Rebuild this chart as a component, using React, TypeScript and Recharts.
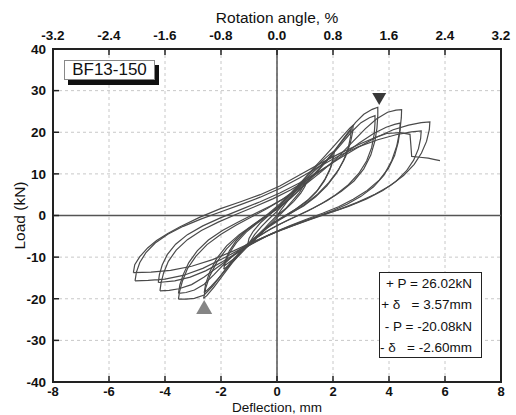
import {
  ComposedChart,
  Line,
  Scatter,
  XAxis,
  YAxis,
  CartesianGrid,
  ReferenceLine,
  ReferenceArea,
} from "recharts";

type Pt = [number, number];

// load history, deflection (mm) vs load (kN), one array per cycle
const cycle1: Pt[] = [
  [0, 0], [0.3, 2.8], [0.6, 5.4], [0.85, 7.4], [1.0, 8.3],
  [0.95, 7.2], [0.8, 5.5], [0.55, 3.5], [0.3, 1.6], [0, 0], [-0.3, -2], [-0.6, -4.3], [-0.85, -6.3], [-1.0, -7.2],
];
const cycle2: Pt[] = [
  [-1.0, -7.2], [-0.95, -6.2], [-0.8, -4.6], [-0.55, -2.6], [-0.3, -0.9], [0, 1.0], [0.3, 3.2], [0.6, 5.3], [0.85, 7.0], [1.05, 8.0],
  [1.0, 7.0], [0.85, 5.4], [0.6, 3.4], [0.3, 1.5], [0, -0.5], [-0.3, -2.5], [-0.6, -4.6], [-0.9, -6.5], [-1.05, -7.1],
];
const cycle3: Pt[] = [
  [-1.05, -7.1], [-1.0, -5.5], [-0.85, -3.8], [-0.6, -1.8], [-0.3, 0], [0, 1.8], [0.4, 4.5], [0.8, 7.4], [1.2, 10.3], [1.6, 13], [1.9, 14.8], [2.05, 15.5],
  [2.02, 14.0], [1.92, 11.6], [1.72, 8.8], [1.45, 6.1], [1.1, 3.7], [0.7, 1.7], [0.3, 0], [-0.1, -1.6], [-0.5, -3.8], [-0.9, -6.4], [-1.3, -9.2], [-1.65, -11.6], [-1.9, -12.9],
];
const cycle4: Pt[] = [
  [-1.9, -12.9], [-1.85, -11.2], [-1.7, -9], [-1.45, -6.5], [-1.1, -4], [-0.7, -1.8], [-0.3, 0.2], [0.1, 2.4], [0.5, 5], [0.9, 7.8], [1.3, 10.5], [1.7, 12.9], [2.0, 14.4],
  [1.98, 13.0], [1.88, 10.8], [1.68, 8.2], [1.4, 5.6], [1.05, 3.3], [0.6, 1.2], [0.15, -0.6], [-0.3, -2.6], [-0.7, -5], [-1.1, -7.6], [-1.5, -10.2], [-1.9, -12.2],
];
const cycle5: Pt[] = [
  [-1.9, -12.2], [-1.85, -10.8], [-1.7, -8.5], [-1.45, -6], [-1.1, -3.6], [-0.7, -1.5], [-0.3, 0.5], [0.1, 2.8], [0.5, 5.4], [0.9, 8.3], [1.3, 11.3], [1.7, 14.2], [2.1, 17.2], [2.4, 19.5], [2.6, 21], [2.72, 21.7],
  [2.7, 20.0], [2.62, 17.4], [2.45, 14.2], [2.2, 11], [1.85, 7.9], [1.45, 5.1], [1.0, 2.7], [0.55, 0.8], [0.1, -1], [-0.35, -3], [-0.8, -5.4], [-1.2, -8.2], [-1.6, -11.4], [-1.95, -14.5], [-2.25, -17.2], [-2.5, -19.2], [-2.62, -19.9],
];
const cycle6: Pt[] = [
  [-2.62, -19.9], [-2.55, -17.5], [-2.4, -14.5], [-2.15, -11.2], [-1.8, -8], [-1.4, -5.2], [-0.95, -2.8], [-0.5, -0.7], [0, 1.5], [0.5, 4.2], [1.0, 7.4], [1.5, 11], [1.95, 14.6], [2.3, 17.6], [2.55, 19.8], [2.65, 20.6],
  [2.63, 19.0], [2.55, 16.4], [2.38, 13.2], [2.12, 10.1], [1.78, 7.1], [1.38, 4.5], [0.95, 2.3], [0.45, 0.4], [-0.05, -1.4], [-0.5, -3.5], [-0.9, -6], [-1.3, -8.9], [-1.7, -12], [-2.05, -14.8], [-2.35, -17], [-2.6, -18.6],
];
const cycle7: Pt[] = [
  [-2.6, -18.6], [-2.55, -16.5], [-2.4, -13.5], [-2.15, -10.3], [-1.8, -7.3], [-1.35, -4.6], [-0.85, -2.2], [-0.35, 0], [0.15, 2.4], [0.65, 5.2], [1.15, 8.5], [1.65, 12.2], [2.1, 16], [2.5, 19.6], [2.8, 22.3], [3.1, 24.3], [3.4, 25.5], [3.6, 26.0],
  [3.6, 24], [3.57, 21], [3.5, 18], [3.35, 14.5], [3.1, 11.2], [2.75, 8.3], [2.3, 5.8], [1.8, 3.6], [1.3, 1.8], [0.8, 0.2], [0.3, -1.4], [-0.2, -3.1], [-0.7, -5.2], [-1.2, -7.9], [-1.65, -11.2], [-2.0, -14.3], [-2.3, -17], [-2.6, -19.1], [-2.95, -19.9], [-3.25, -20.1], [-3.52, -20.1],
];
const cycle8: Pt[] = [
  [-3.52, -20.1], [-3.48, -18.3], [-3.38, -15.8], [-3.2, -12.8], [-2.9, -9.8], [-2.5, -7], [-2.0, -4.5], [-1.45, -2.3], [-0.9, -0.3], [-0.35, 1.7], [0.2, 3.9], [0.75, 6.6], [1.3, 9.8], [1.8, 13.3], [2.25, 16.8], [2.65, 20], [3.0, 22.3], [3.3, 23.5], [3.5, 24.0],
  [3.5, 22.2], [3.47, 19.5], [3.38, 16.3], [3.2, 13.1], [2.92, 10.1], [2.55, 7.4], [2.1, 5], [1.6, 2.9], [1.1, 1.1], [0.6, -0.5], [0.1, -2.1], [-0.4, -3.9], [-0.9, -6], [-1.4, -8.6], [-1.85, -11.4], [-2.25, -14.2], [-2.6, -16.5], [-2.95, -17.9], [-3.25, -18.5], [-3.52, -18.7],
];
const cycle9: Pt[] = [
  [-3.52, -18.7], [-3.47, -16.7], [-3.35, -14.2], [-3.15, -11.3], [-2.85, -8.5], [-2.45, -5.9], [-1.95, -3.6], [-1.4, -1.6], [-0.8, 0.4], [-0.2, 2.4], [0.4, 4.7], [1.0, 7.4], [1.6, 10.6], [2.2, 14.2], [2.7, 17.7], [3.15, 20.8], [3.55, 23.2], [3.95, 24.8], [4.25, 25.3], [4.45, 25.4],
  [4.44, 23.5], [4.39, 20.5], [4.28, 16.8], [4.1, 13.2], [3.82, 9.7], [3.45, 6.9], [3.0, 4.6], [2.5, 2.7], [2.0, 1.2], [1.45, -0.2], [0.85, -1.7], [0.25, -3.2], [-0.35, -4.9], [-0.95, -7], [-1.55, -9.6], [-2.1, -12.3], [-2.6, -14.8], [-3.05, -16.6], [-3.5, -17.6], [-3.85, -18], [-4.18, -18.1],
];
const cycle10: Pt[] = [
  [-4.18, -18.1], [-4.14, -16.2], [-4.05, -13.8], [-3.88, -11], [-3.6, -8.3], [-3.2, -5.8], [-2.7, -3.6], [-2.1, -1.6], [-1.45, 0.3], [-0.8, 2.1], [-0.15, 4], [0.5, 6.2], [1.15, 8.8], [1.8, 11.8], [2.4, 14.8], [2.95, 17.5], [3.45, 19.7], [3.9, 21.2], [4.2, 21.9], [4.4, 22.2],
  [4.39, 20.4], [4.33, 17.6], [4.2, 14.4], [3.98, 11.3], [3.65, 8.5], [3.22, 6], [2.72, 3.9], [2.2, 2.1], [1.65, 0.6], [1.05, -0.9], [0.45, -2.5], [-0.15, -4.2], [-0.75, -6.2], [-1.35, -8.6], [-1.95, -11.1], [-2.55, -13.3], [-3.1, -14.8], [-3.65, -15.7], [-4.24, -16.1],
];
const cycle11: Pt[] = [
  [-4.24, -16.1], [-4.2, -14.2], [-4.1, -11.9], [-3.92, -9.4], [-3.62, -6.9], [-3.2, -4.6], [-2.65, -2.5], [-2.0, -0.5], [-1.3, 1.4], [-0.6, 3.3], [0.1, 5.4], [0.8, 7.8], [1.5, 10.6], [2.2, 13.6], [2.9, 16.4], [3.55, 18.8], [4.15, 20.6], [4.7, 21.7], [5.15, 22.3], [5.46, 22.5],
  [5.44, 20.6], [5.34, 17.8], [5.16, 15], [4.9, 12.3], [4.52, 9.6], [4.05, 7.2], [3.5, 5.1], [2.85, 3.1], [2.2, 1.4], [1.55, 0], [0.85, -1.6], [0.15, -3.4], [-0.55, -5.5], [-1.25, -7.9], [-1.95, -10.4], [-2.65, -12.7], [-3.35, -14.4], [-4.0, -15.3], [-4.6, -15.6], [-5.07, -15.7],
];
const cycle12: Pt[] = [
  [-5.07, -15.7], [-5.02, -13.6], [-4.9, -11.3], [-4.68, -8.9], [-4.35, -6.6], [-3.9, -4.5], [-3.35, -2.6], [-2.7, -0.8], [-2.0, 0.9], [-1.3, 2.6], [-0.6, 4.4], [0.1, 6.5], [0.8, 9], [1.5, 11.7], [2.2, 14.3], [2.9, 16.5], [3.6, 18.2], [4.25, 19.4], [4.8, 20.1], [5.15, 20.3],
  [5.13, 18.5], [5.05, 16], [4.88, 13.3], [4.62, 10.7], [4.25, 8.2], [3.78, 6], [3.2, 4], [2.55, 2.2], [1.9, 0.7], [1.25, -0.8], [0.55, -2.5], [-0.15, -4.3], [-0.85, -6.3], [-1.55, -8.5], [-2.3, -10.6], [-3.05, -12.2], [-3.8, -13.2], [-4.5, -13.6], [-5.13, -13.7],
];
const cycle13: Pt[] = [
  [-5.13, -13.7], [-5.08, -11.8], [-4.9, -9.9], [-4.62, -7.8], [-4.3, -6.0], [-3.9, -4.3], [-3.46, -2.7], [-2.75, -0.4], [-2.04, 1.6], [-1.3, 3.3], [-0.6, 5.0], [0.1, 7.1], [0.9, 10.1], [1.6, 12.7], [2.3, 15.1], [3.0, 17.3], [3.5, 18.7], [3.92, 19.7], [4.4, 19.9], [4.75, 19.5],
  [4.78, 17], [4.81, 14.2], [5.1, 14.0], [5.4, 13.8], [5.6, 13.5], [5.82, 13.2],
];

const cycles = [cycle1, cycle2, cycle3, cycle4, cycle5, cycle6, cycle7, cycle8, cycle9, cycle10, cycle11, cycle12, cycle13];

const xTicks = [-8, -6, -4, -2, 0, 2, 4, 6, 8];
const rotationLabels = ["-3.2", "-2.4", "-1.6", "-0.8", "0.0", "0.8", "1.6", "2.4", "3.2"];
const yTicks = [-40, -30, -20, -10, 0, 10, 20, 30, 40];

// peak markers
const peakPos = [{ x: 3.65, y: 28 }];
const peakNeg = [{ x: -2.6, y: -22 }];

const statLines = ["+ P = 26.02kN", "+ δ   = 3.57mm", "- P = -20.08kN", "- δ   = -2.60mm"];

const FONT = '"Liberation Sans", Arial, Helvetica, sans-serif';
const INK = "#111";
const FRAME = "#222";
const CURVE = "#4a4a4a";
const TICK_LEN = 6;

function BottomTick({ x, y, payload }: any) {
  return (
    <g>
      <line x1={x} x2={x} y1={y - 5} y2={y - 5 - TICK_LEN} stroke={FRAME} strokeWidth={1.5} />
      <text x={x} y={y} dy="0.72em" textAnchor="middle" fontSize={13} fontWeight="bold" fill={INK} fontFamily={FONT}>
        {payload.value}
      </text>
    </g>
  );
}

function TopTick({ x, y, payload }: any) {
  const label = rotationLabels[xTicks.indexOf(payload.value)];
  return (
    <g>
      <line x1={x} x2={x} y1={y + 9} y2={y + 9 + TICK_LEN} stroke={FRAME} strokeWidth={1.5} />
      <text x={x} y={y} textAnchor="middle" fontSize={13.5} fontWeight="bold" fill={INK} fontFamily={FONT}>
        {label}
      </text>
    </g>
  );
}

function LeftTick({ x, y, payload }: any) {
  return (
    <g>
      <line x1={x + 7} x2={x + 7 + TICK_LEN} y1={y} y2={y} stroke={FRAME} strokeWidth={1.5} />
      <text x={x} y={y} dy="0.36em" textAnchor="end" fontSize={13.5} fontWeight="bold" fill={INK} fontFamily={FONT}>
        {payload.value}
      </text>
    </g>
  );
}

const DownTriangle = (p: any) => (
  <polygon points={`${p.cx - 7},${p.cy - 6} ${p.cx + 7},${p.cy - 6} ${p.cx},${p.cy + 6}`} fill="#383838" />
);
const UpTriangle = (p: any) => (
  <polygon points={`${p.cx - 8},${p.cy + 7} ${p.cx + 8},${p.cy + 7} ${p.cx},${p.cy - 7}`} fill="#858585" />
);

export default function App() {
  return (
    <div style={{ position: "absolute", left: 0, top: 0, width: 516, height: 415, background: "#fff", fontFamily: FONT, overflow: "hidden" }}>
      <ComposedChart width={516} height={415} margin={{ top: 0, right: 15, bottom: 0, left: 0 }}>
        <CartesianGrid stroke="#c8c8c8" strokeDasharray="3 3" />
        <XAxis
          dataKey="x"
          type="number"
          domain={[-8, 8]}
          ticks={xTicks}
          allowDataOverflow
          height={33}
          axisLine={false}
          tickLine={false}
          tickSize={0}
          tickMargin={5}
          tick={BottomTick}
          label={{ value: "Deflection, mm", position: "insideTop", offset: 20, fontSize: 13.5, fill: INK, fontFamily: FONT }}
        />
        <XAxis
          xAxisId="top"
          orientation="top"
          dataKey="x"
          type="number"
          domain={[-8, 8]}
          ticks={xTicks}
          allowDataOverflow
          height={49}
          axisLine={false}
          tickLine={false}
          tickSize={0}
          tickMargin={9}
          tick={TopTick}
          label={{ value: "Rotation angle, %", position: "insideTop", offset: 12, fontSize: 15.5, fill: INK, fontFamily: FONT }}
        />
        <YAxis
          type="number"
          domain={[-40, 40]}
          ticks={yTicks}
          allowDataOverflow
          width={53}
          axisLine={false}
          tickLine={false}
          tickSize={0}
          tickMargin={7}
          tick={LeftTick}
          label={{ value: "Load (kN)", angle: -90, position: "insideLeft", offset: 19, fontSize: 15.5, fill: INK, fontFamily: FONT, style: { textAnchor: "middle" } }}
        />
        <ReferenceLine x={0} stroke="#555" strokeWidth={1.5} />
        <ReferenceLine y={0} stroke="#555" strokeWidth={1.5} />
        {cycles.map((c, i) => (
          <Line
            key={i}
            data={c.map(([x, y]) => ({ x, y }))}
            dataKey="y"
            type="linear"
            stroke={CURVE}
            strokeWidth={1.2}
            dot={false}
            activeDot={false}
            isAnimationActive={false}
          />
        ))}
        <Scatter data={peakPos} dataKey="y" shape={DownTriangle} isAnimationActive={false} />
        <Scatter data={peakNeg} dataKey="y" shape={UpTriangle} isAnimationActive={false} />
        <ReferenceArea x1={-8} x2={8} y1={-40} y2={40} fill="none" fillOpacity={0} stroke={FRAME} strokeWidth={2} />
      </ComposedChart>
      <div
        style={{
          position: "absolute",
          left: 64,
          top: 60,
          width: 91,
          height: 20,
          boxSizing: "border-box",
          border: "1px solid #888",
          background: "#fff",
          boxShadow: "4px 5px 0 #111",
          fontSize: 17,
          lineHeight: "18px",
          textAlign: "center",
          color: INK,
        }}
      >
        BF13-150
      </div>
      <div
        style={{
          position: "absolute",
          left: 379,
          top: 272,
          width: 103,
          height: 86,
          boxSizing: "border-box",
          border: "1.5px solid #222",
          background: "#fff",
          fontSize: 13.5,
          color: INK,
        }}
      >
        {statLines.map((s) => (
          <div key={s} style={{ height: 21.3, lineHeight: "21.3px", whiteSpace: "pre", textAlign: "right", paddingRight: 9 }}>
            {s}
          </div>
        ))}
      </div>
    </div>
  );
}
